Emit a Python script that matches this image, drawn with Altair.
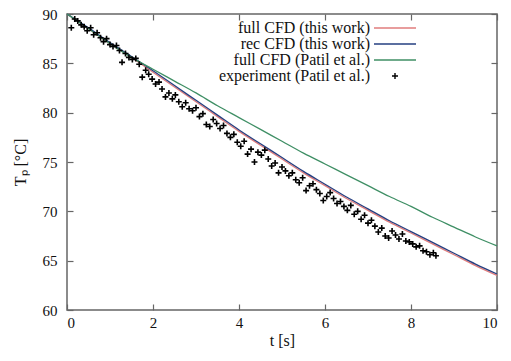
import altair as alt
import pandas as pd

# ---- data ----
t_curve = [0, 0.5, 1, 1.5, 2, 2.5, 3, 3.5, 4, 4.5, 5, 5.5, 6, 6.5, 7, 7.5, 8, 8.5, 9, 9.5, 10]
full_cfd_this = [90.0, 88.5, 87.0, 85.6, 84.1, 82.6, 81.1, 79.6, 78.1, 76.7, 75.3, 73.9,
                 72.6, 71.3, 70.1, 68.9, 67.8, 66.7, 65.6, 64.5, 63.5]
rec_cfd_this = [90.0, 88.6, 87.1, 85.7, 84.25, 82.75, 81.25, 79.75, 78.25, 76.85, 75.45, 74.05,
                72.75, 71.45, 70.25, 69.05, 67.95, 66.85, 65.75, 64.65, 63.65]
full_cfd_patil = [90.0, 88.5, 87.0, 85.6, 84.4, 83.2, 82.0, 80.7, 79.5, 78.3, 77.1, 75.9,
                  74.8, 73.7, 72.6, 71.5, 70.5, 69.4, 68.4, 67.4, 66.5]

t_exp = [0.10, 0.18, 0.25, 0.33, 0.40, 0.47, 0.55, 0.62, 0.70, 0.78, 0.85, 0.92, 1.00, 1.07,
         1.15, 1.22, 1.28, 1.36, 1.44, 1.52, 1.60, 1.68, 1.75, 1.83, 1.90, 1.98, 2.06, 2.14,
         2.21, 2.29, 2.37, 2.45, 2.52, 2.60, 2.68, 2.76, 2.84, 2.92, 3.00, 3.08, 3.16, 3.24,
         3.32, 3.40, 3.48, 3.56, 3.64, 3.72, 3.80, 3.88, 3.96, 4.04, 4.12, 4.20, 4.28, 4.36,
         4.44, 4.52, 4.60, 4.68, 4.76, 4.84, 4.92, 5.00, 5.08, 5.16, 5.24, 5.32, 5.40, 5.48,
         5.56, 5.64, 5.72, 5.80, 5.88, 5.96, 6.04, 6.12, 6.20, 6.28, 6.36, 6.44, 6.52, 6.60,
         6.68, 6.76, 6.84, 6.92, 7.00, 7.08, 7.16, 7.24, 7.32, 7.40, 7.48, 7.56, 7.64, 7.72,
         7.80, 7.88, 7.96, 8.04, 8.12, 8.20, 8.28, 8.36, 8.44, 8.52, 8.58]
T_exp = [88.6, 89.5, 89.3, 88.9, 88.7, 88.3, 88.6, 87.9, 88.1, 87.6, 87.2, 87.5, 86.9, 86.7,
         86.8, 86.3, 85.1, 86.0, 85.6, 85.4, 85.5, 84.9, 83.6, 84.3, 83.9, 83.4, 82.9, 83.1,
         82.4, 81.6, 82.0, 81.4, 81.8, 81.1, 80.6, 81.0, 80.4, 80.2, 80.5, 79.6, 79.9, 78.8,
         78.6, 79.3, 78.9, 78.4, 78.7, 77.9, 77.5, 77.8, 77.0, 76.6, 77.1, 75.8, 76.3, 75.0,
         76.0, 75.7, 76.2, 75.3, 74.6, 74.9, 73.9, 74.5, 74.1, 73.6, 73.9, 73.2, 72.9, 73.4,
         72.1, 72.6, 72.8, 72.2, 71.8, 71.1, 71.5, 71.9, 71.3, 70.8, 71.0, 70.5, 70.1, 70.6,
         69.7, 70.0, 69.2, 69.6, 68.8, 69.1, 68.5, 67.9, 68.3, 67.5, 67.3, 68.0, 67.6, 67.2,
         67.7, 67.0, 66.9, 66.7, 66.4, 66.5, 66.0, 65.9, 65.6, 65.8, 65.5]

series_names = ["full CFD (this work)", "rec CFD (this work)",
                "full CFD (Patil et al.)", "experiment (Patil et al.)"]
series_colors = ["#e07c7c", "#253f80", "#3f8f65", "#000000"]
series_shapes = ["M-7,0H7", "M-7,0H7", "M-7,0H7", "M-1,0H1M0,-1V1"]

x_ticks = [0, 2, 4, 6, 8, 10]
y_ticks = [60, 65, 70, 75, 80, 85, 90]

# ---- tables ----
rows = []
for name, vals in zip(series_names[:3], [full_cfd_this, rec_cfd_this, full_cfd_patil]):
    for t, v in zip(t_curve, vals):
        rows.append({"t": t, "T": v, "series": name})
lines_df = pd.DataFrame(rows)
exp_df = pd.DataFrame({"t": t_exp, "T": T_exp, "series": series_names[3]})

W, H = 430, 296
FONT = "Liberation Serif, serif"
GRAY = "#666666"
TXT = "#111111"

xscale = alt.Scale(domain=[0, 10], nice=False, zero=False)
yscale = alt.Scale(domain=[60, 90], nice=False, zero=False)
cscale = alt.Scale(domain=series_names, range=series_colors)
sscale = alt.Scale(domain=series_names, range=series_shapes)
leg = alt.Legend(title=None, orient="none", legendX=140, legendY=6,
                 labelAlign="right", labelOffset={"expr": "-33"}, symbolOffset=180,
                 labelFont=FONT, labelFontSize=16, labelColor=TXT, labelLimit=0,
                 symbolSize=36, symbolStrokeWidth=1.4, rowPadding=0, padding=0)


def tick_axis(orient, offset, values):
    return alt.Axis(orient=orient, offset=offset, values=values, labels=False, title=None,
                    ticks=True, tickSize=6, domain=False, grid=False)


# main layer: curves, labelled axes
lines = alt.Chart(lines_df).mark_line(strokeWidth=1.3, interpolate="monotone").encode(
    x=alt.X("t:Q", scale=xscale,
            axis=alt.Axis(orient="bottom", values=x_ticks, title="t [s]", ticks=False,
                          domain=False, grid=False, labelPadding=5, titlePadding=2,
                          format="d", labelFont=FONT, titleFont=FONT,
                          labelFontSize=15, titleFontSize=16)),
    y=alt.Y("T:Q", scale=yscale,
            axis=alt.Axis(orient="left", values=y_ticks, title="Tₚ [°C]", ticks=False,
                          domain=False, grid=False, labelPadding=10, titlePadding=14,
                          format="d", labelFont=FONT, titleFont=FONT,
                          labelFontSize=15, titleFontSize=16)),
    color=alt.Color("series:N", scale=cscale, legend=leg),
    detail="series:N",
)

# experiment points, with inward ticks on bottom and left
points = alt.Chart(exp_df).mark_point(shape="cross", size=36, strokeWidth=1.6,
                                      opacity=1).encode(
    x=alt.X("t:Q", scale=xscale, axis=tick_axis("top", -H, x_ticks)),
    y=alt.Y("T:Q", scale=yscale, axis=tick_axis("right", -W, y_ticks)),
    color=alt.Color("series:N", scale=cscale, legend=leg),
    shape=alt.Shape("series:N", scale=sscale, legend=leg),
)

# invisible copy carrying inward mirror ticks on top and right
mirror = alt.Chart(lines_df).mark_line(opacity=0).encode(
    x=alt.X("t:Q", scale=xscale, axis=tick_axis("bottom", -H, x_ticks)),
    y=alt.Y("T:Q", scale=yscale, axis=tick_axis("left", -W, y_ticks)),
    detail="series:N",
)

chart = alt.layer(lines, points, mirror).resolve_axis(
    x="independent", y="independent"
).properties(
    width=W, height=H,
    autosize=alt.AutoSizeParams(type="none"),
    padding={"left": 59, "top": 6, "right": 6, "bottom": 38},
    background="white",
).configure_view(
    stroke=GRAY, strokeWidth=1.5
).configure_axis(
    labelFont=FONT, labelFontSize=15, labelColor=TXT,
    titleFont=FONT, titleFontSize=16, titleColor=TXT, titleFontWeight="normal",
    tickColor=GRAY, tickWidth=1.2,
)

chart.save("out.html", embed_options={"renderer": "svg", "actions": False})
